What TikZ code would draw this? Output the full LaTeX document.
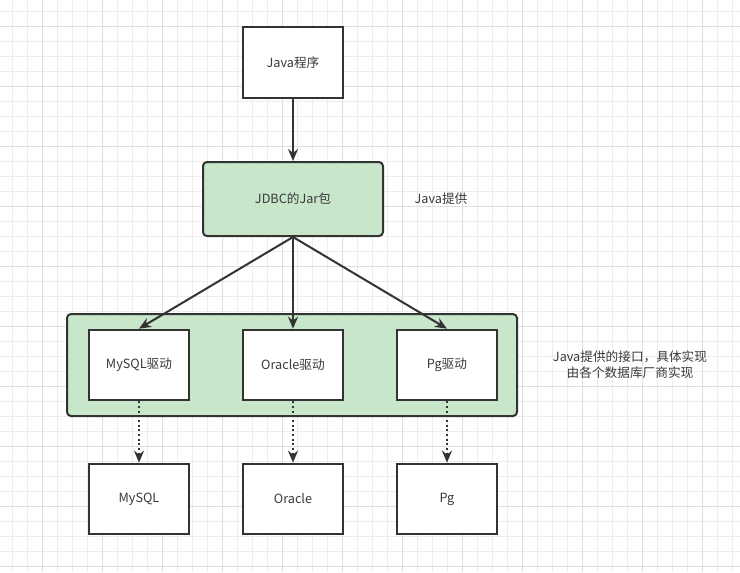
\documentclass[tikz,border=0pt]{standalone}
\usepackage{fontspec}
\setmainfont{Noto Sans CJK SC}
\usetikzlibrary{arrows.meta}
\definecolor{gridminor}{HTML}{EDEDED}
\definecolor{gridmajor}{HTML}{DEDEDE}
\definecolor{ink}{HTML}{333333}
\definecolor{txt}{HTML}{3A3A3A}
\definecolor{grn}{HTML}{C8E6C9}
\tikzset{
  box/.style={draw=ink, line width=1.5pt, fill=white, minimum width=75pt, minimum height=53pt, inner sep=0pt, font=\fontsize{9.5pt}{12pt}\selectfont, text=txt},
  greenbox/.style={draw=ink, line width=1.5pt, fill=grn, rounded corners=3pt, inner sep=0pt},
  label/.style={font=\fontsize{9.5pt}{12pt}\selectfont, text=txt, align=center, inner sep=0pt},
  arr/.style={draw=ink, line width=1.5pt, -{Stealth[length=9pt,width=7.5pt]}},
  dotarr/.style={draw=ink, line width=1.5pt, dash pattern=on 1.5pt off 2pt, -{Stealth[length=9pt,width=7.5pt]}}
}
\begin{document}
\begin{tikzpicture}[x=0.75pt,y=-0.75pt]
\useasboundingbox (0,0) rectangle (740,572);
\fill[white] (0,0) rectangle (740,572);
\foreach \x in {12,27,...,740} \draw[gridminor, line width=0.75pt] (\x,0) -- (\x,572);
\foreach \y in {11,26,...,572} \draw[gridminor, line width=0.75pt] (0,\y) -- (740,\y);
\foreach \x in {42,102,...,740} \draw[gridmajor, line width=0.75pt] (\x,0) -- (\x,572);
\foreach \y in {26,86,...,572} \draw[gridmajor, line width=0.75pt] (0,\y) -- (740,\y);

\node[box] (java) at (293,62.5) {Java程序};
\node[greenbox, minimum width=135pt, minimum height=55.5pt, font=\fontsize{9.5pt}{12pt}\selectfont, text=txt] (jdbc) at (293,199) {JDBC的Jar包};
\node[label] (jtip) at (441,199) {Java提供};

\node[greenbox, minimum width=337.5pt, minimum height=76.5pt] (group) at (292,365) {};
\node[box] (mysqld) at (139,365) {MySQL驱动};
\node[box] (oracled) at (293,365) {Oracle驱动};
\node[box] (pgd) at (447,365) {Pg驱动};
\node[label, font=\fontsize{9.5pt}{12pt}\selectfont] (note) at (630,365) {Java提供的接口，具体实现\\由各个数据库厂商实现};

\node[box] (mysql) at (139,499) {MySQL};
\node[box] (oracle) at (293,499) {Oracle};
\node[box] (pg) at (447,499) {Pg};

\draw[arr] (java.south) -- (jdbc.north);
\draw[arr] (jdbc.south) -- (mysqld.north);
\draw[arr] (jdbc.south) -- (oracled.north);
\draw[arr] (jdbc.south) -- (pgd.north);
\draw[dotarr] (mysqld.south) -- (mysql.north);
\draw[dotarr] (oracled.south) -- (oracle.north);
\draw[dotarr] (pgd.south) -- (pg.north);
\end{tikzpicture}
\end{document}
